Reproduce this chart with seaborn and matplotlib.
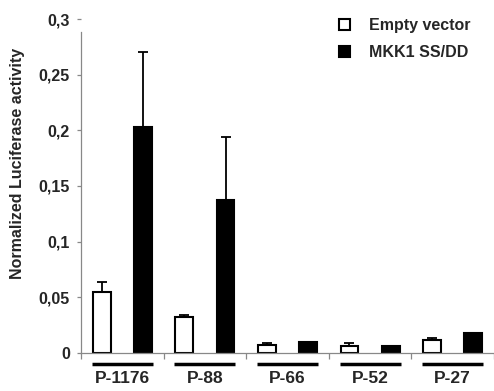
import numpy as np
import pandas as pd

import matplotlib
matplotlib.use("Agg")
import matplotlib.pyplot as plt
from matplotlib.ticker import MultipleLocator
import seaborn as sns

### Data
promoters = ["P-1176", "P-88", "P-66", "P-52", "P-27"]
constructs = ["Empty vector", "MKK1 SS/DD"]
empty_vector = [0.055, 0.032, 0.0065, 0.006, 0.0113]
empty_err = [0.0085, 0.0015, 0.002, 0.0025, 0.0022]
mkk1 = [0.2035, 0.137, 0.0095, 0.0058, 0.018]
mkk1_err = [0.067, 0.057, 0.0, 0.0, 0.0]
yticks = [0, 0.05, 0.1, 0.15, 0.2, 0.25, 0.3]
ytick_labels = ["0", "0,05", "0,1", "0,15", "0,2", "0,25", "0,3"]

df = pd.DataFrame({
    "promoter": promoters * 2,
    "construct": [constructs[0]] * len(promoters) + [constructs[1]] * len(promoters),
    "activity": empty_vector + mkk1,
})
errors = empty_err + mkk1_err

sns.set_style("white")
plt.rcParams["font.family"] = ["Liberation Sans", "DejaVu Sans"]
plt.rcParams["font.weight"] = "bold"

fig = plt.figure(figsize=(4.94, 3.91), dpi=100)
ax = fig.add_axes([81 / 494, 38.3 / 391, 413 / 494, 333.4 / 391])

sns.barplot(data=df, x="promoter", y="activity", hue="construct",
            order=promoters, hue_order=constructs,
            palette={"Empty vector": "white", "MKK1 SS/DD": "black"},
            edgecolor="black", linewidth=1.5, width=1.0, gap=0.57,
            errorbar=None, ax=ax)

### Upper error bars on each bar
bars = [p for c in ax.containers for p in c]
xs = [p.get_x() + p.get_width() / 2 for p in bars]
ys = [p.get_height() for p in bars]
ax.errorbar(xs, ys, yerr=[np.zeros(len(errors)), errors], fmt="none",
            ecolor="black", elinewidth=1.3, capsize=3.8, capthick=1.3, zorder=1)

### Axes styling
ax.set_xlim(-0.5, 4.5)
ax.set_ylim(0, 0.3)
ax.set_yticks(yticks, labels=ytick_labels)
ax.set_xlabel("")
ax.set_ylabel("Normalized Luciferase activity", fontsize=11.5, fontweight="bold")
ax.yaxis.set_label_coords(-0.135, 0.567)

for s in ["top", "right"]:
    ax.spines[s].set_visible(False)
ax.spines["left"].set_color("#888888")
ax.spines["bottom"].set_color("#888888")
ax.spines["left"].set_linewidth(0.9)
ax.spines["bottom"].set_linewidth(0.9)
ax.spines["left"].set_bounds(0, 0.289)

ax.tick_params(axis="y", which="major", length=3, width=0.9, color="#888888",
               direction="out", pad=5, labelsize=11.5, left=True)
ax.xaxis.set_minor_locator(MultipleLocator(0.5))
ax.tick_params(axis="x", which="minor", length=4.3, width=0.9, color="#888888",
               direction="out", bottom=True)
ax.tick_params(axis="x", which="major", length=0, pad=13.5, labelsize=12.5)
for lbl in ax.get_xticklabels() + ax.get_yticklabels():
    lbl.set_fontweight("bold")

### Group underlines below the axis
for xpos in ax.get_xticks():
    ax.plot([xpos - 0.37, xpos + 0.37], [-0.034, -0.034], color="black", lw=2.5,
            transform=ax.get_xaxis_transform(), clip_on=False, solid_capstyle="butt")

handles, labels = ax.get_legend_handles_labels()
ax.legend(handles, labels, loc="upper left", bbox_to_anchor=(0.625, 1.004),
          frameon=False, borderpad=0, borderaxespad=0, handlelength=0.65,
          handleheight=0.65, handletextpad=1.2, labelspacing=0.75,
          prop={"size": 11.5, "weight": "bold"})

plt.savefig("out.png", dpi=100)
